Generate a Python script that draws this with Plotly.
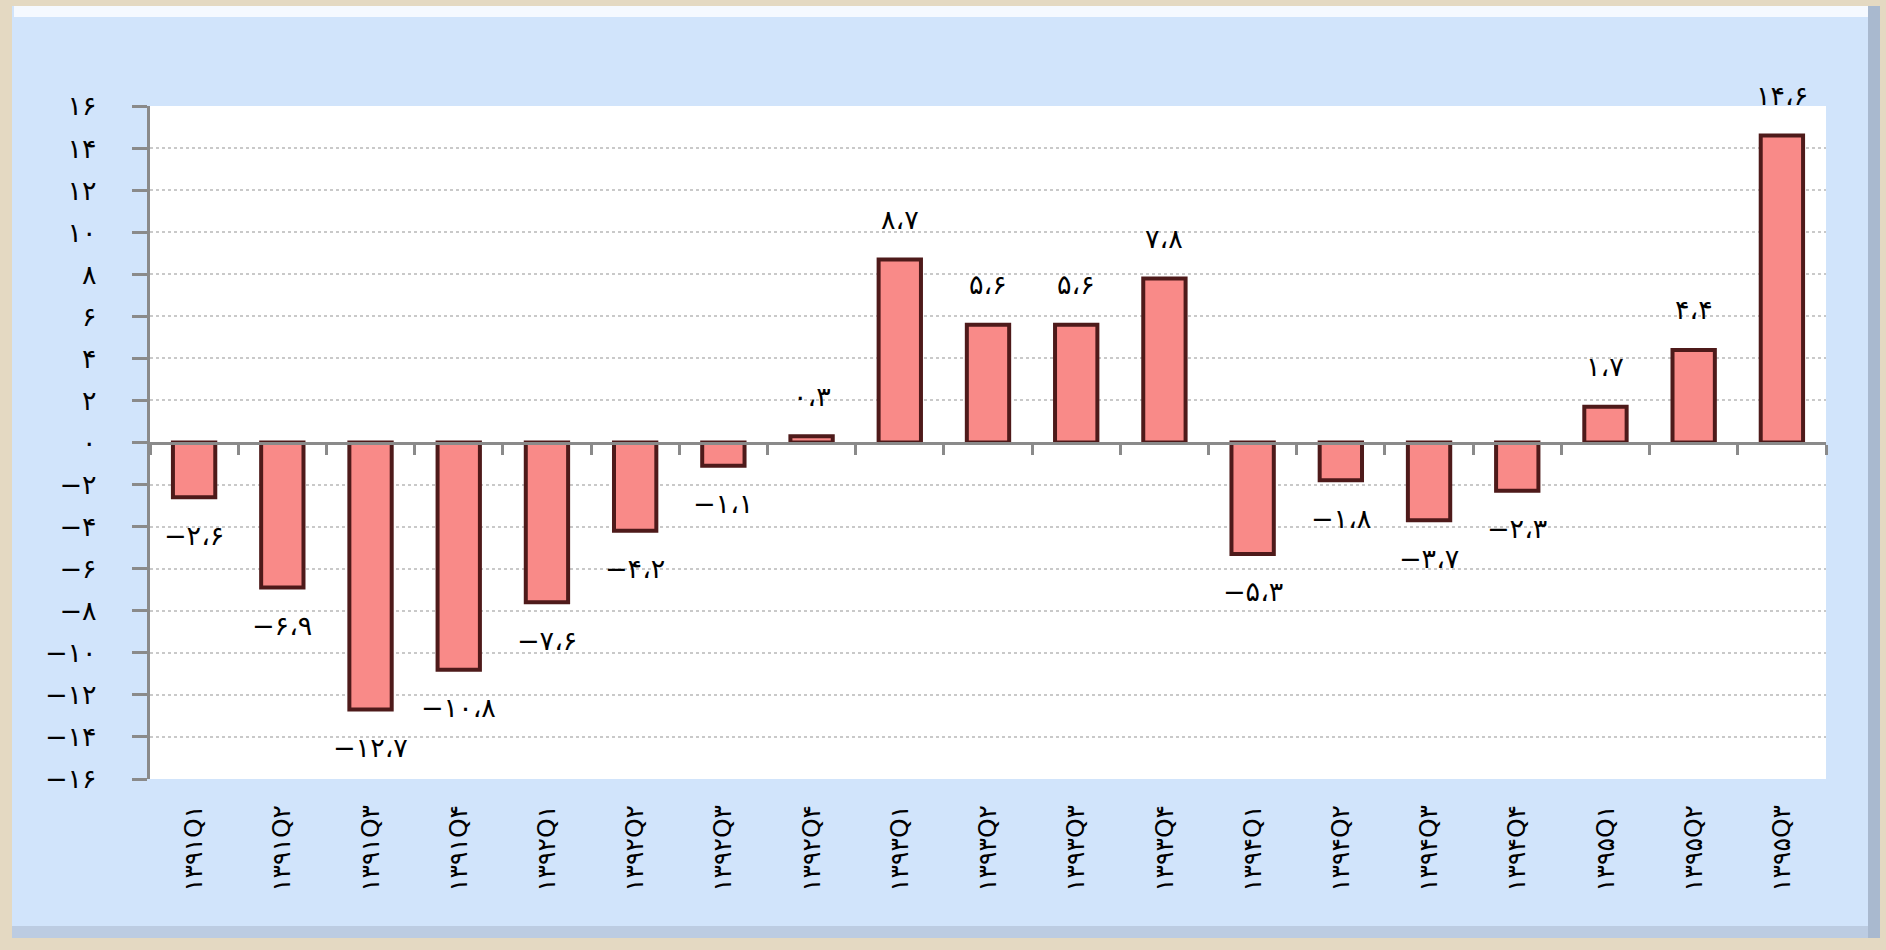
import plotly.graph_objects as go

# داده‌ها
quarters = ["۱۳۹۱Q۱", "۱۳۹۱Q۲", "۱۳۹۱Q۳", "۱۳۹۱Q۴",
            "۱۳۹۲Q۱", "۱۳۹۲Q۲", "۱۳۹۲Q۳", "۱۳۹۲Q۴",
            "۱۳۹۳Q۱", "۱۳۹۳Q۲", "۱۳۹۳Q۳", "۱۳۹۳Q۴",
            "۱۳۹۴Q۱", "۱۳۹۴Q۲", "۱۳۹۴Q۳", "۱۳۹۴Q۴",
            "۱۳۹۵Q۱", "۱۳۹۵Q۲", "۱۳۹۵Q۳"]
growth = [-2.6, -6.9, -12.7, -10.8, -7.6, -4.2, -1.1, 0.3, 8.7, 5.6,
          5.6, 7.8, -5.3, -1.8, -3.7, -2.3, 1.7, 4.4, 14.6]
y_ticks = list(range(-16, 17, 2))

# رنگ‌ها
C_BAR = "#F98A88"
C_EDGE = "#4E1A1A"
C_AXIS = "#8A8A8A"
C_GRID = "#C9C9C9"
C_PANEL = "#D1E4FB"
C_OUTER = "#E4D9C2"

FA = str.maketrans("0123456789.-", "۰۱۲۳۴۵۶۷۸۹،−")


def fa(v):
    """عدد به رقم فارسی"""
    return f"{v:g}".translate(FA)


W, H = 1886, 950
L, R, T, B = 150, 60, 106, 171
pw, ph = W - L - R, H - T - B


def px(x):
    return (x - L) / pw


def py(y):
    return (H - B - y) / ph


fig = go.Figure()
fig.add_trace(go.Bar(
    x=quarters, y=growth, width=0.48,
    marker=dict(color=C_BAR, line=dict(color=C_EDGE, width=4)),
    hoverinfo="x+y", showlegend=False))

# برچسب مقادیر
for q, v in zip(quarters, growth):
    fig.add_annotation(x=q, y=v, text=fa(v), showarrow=False,
                       yshift=40 if v >= 0 else -38,
                       font=dict(size=27, color="black"))

# قاب پس‌زمینه
shapes = [
    dict(x0=12, x1=1880, y0=6, y1=938, color=C_PANEL),
    dict(x0=14, x1=1868, y0=6, y1=17, color="#F5F9FF"),
    dict(x0=1868, x1=1880, y0=6, y1=938, color="#A9B9CF"),
    dict(x0=12, x1=1868, y0=926, y1=938, color="#BCCCE2"),
    dict(x0=L, x1=W - R, y0=T, y1=H - B, color="white"),
]
for s in shapes:
    fig.add_shape(type="rect", xref="paper", yref="paper", layer="below",
                  x0=px(s["x0"]), x1=px(s["x1"]), y0=py(s["y1"]), y1=py(s["y0"]),
                  fillcolor=s["color"], line_width=0)

fig.update_layout(
    width=W, height=H,
    margin=dict(l=L, r=R, t=T, b=B),
    paper_bgcolor=C_OUTER, plot_bgcolor="white",
    font=dict(family="DejaVu Sans", size=24, color="black"),
    xaxis=dict(type="category", range=[-0.5, len(quarters) - 0.5],
               tickangle=-90, showline=False, ticks="", showgrid=False,
               ticklabelstandoff=20, tickfont=dict(size=25)),
    xaxis2=dict(overlaying="x", anchor="free", position=0.5,
                range=[-0.5, len(quarters) - 0.5],
                tickvals=[i - 0.5 for i in range(len(quarters) + 1)],
                showticklabels=False, ticks="outside", ticklen=10,
                tickwidth=3, tickcolor=C_AXIS, showgrid=False,
                showline=True, linecolor=C_AXIS, linewidth=3, zeroline=False),
    yaxis=dict(range=[-16, 16], tickvals=y_ticks,
               ticktext=[fa(t) for t in y_ticks],
               showline=True, linecolor=C_AXIS, linewidth=3,
               ticks="outside", ticklen=15, tickwidth=3, tickcolor=C_AXIS,
               showgrid=True, gridcolor=C_GRID, gridwidth=2, griddash="dot",
               zeroline=False, ticklabelstandoff=30, tickfont=dict(size=27)),
)
# محور دوم برای خط صفر
fig.add_trace(go.Scatter(x=[0], y=[0], xaxis="x2", mode="markers",
                         marker=dict(opacity=0), hoverinfo="skip",
                         showlegend=False))

fig.write_html("out.html", config={"displayModeBar": False},
               post_script="document.body.style.margin='0';")
